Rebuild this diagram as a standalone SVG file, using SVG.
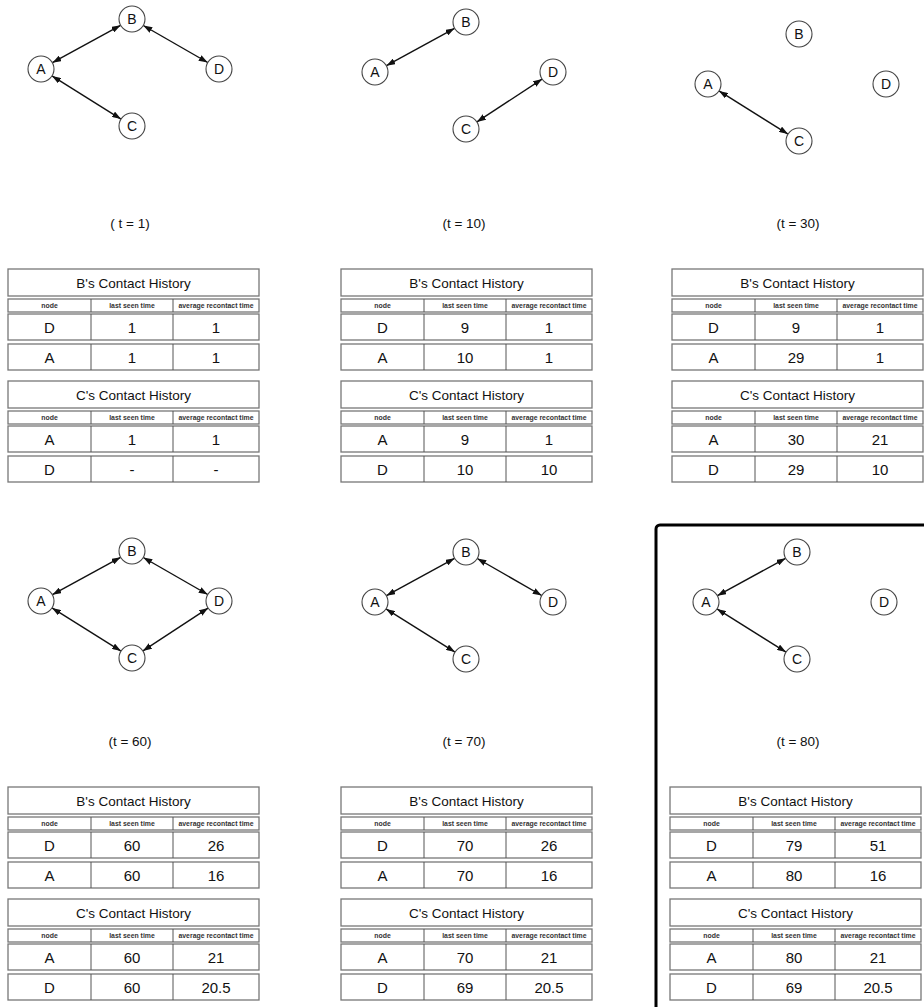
<svg xmlns="http://www.w3.org/2000/svg" width="924" height="1007" viewBox="0 0 924 1007">
<style>
  text { font-family: "Liberation Sans", Arial, Helvetica, sans-serif; fill: #111; text-anchor: middle; }
  .node circle { fill: #fff; stroke: #444; stroke-width: 1.1; }
  .node text { font-size: 14px; }
  .edge { stroke: #111; stroke-width: 1.4; fill: none; marker-start: url(#arr); marker-end: url(#arr); }
  .cap { font-size: 13.5px; }
  .box { fill: #fff; stroke: #777; stroke-width: 1.3; }
  .div { stroke: #555; stroke-width: 1; }
  .ttl { font-size: 13.5px; }
  .hdr { font-size: 6.9px; font-weight: bold; fill: #333; }
  .val { font-size: 15px; }
</style>
<defs>
  <marker id="arr" viewBox="0 0 10 7" markerUnits="userSpaceOnUse" markerWidth="9" markerHeight="6.3" refX="10" refY="3.5" orient="auto-start-reverse">
    <path d="M0,0 L10,3.5 L0,7 z" fill="#111"/>
  </marker>
</defs>
<rect width="924" height="1007" fill="#fff"/>

<!-- connectors -->
<g id="connectors">
  <g transform="translate(41,69)">
    <line class="edge" x1="11.4" y1="-6.3" x2="79.6" y2="-43.7"/>
    <line class="edge" x1="102.3" y1="-43.5" x2="166.7" y2="-6.5"/>
    <line class="edge" x1="11" y1="6.9" x2="80" y2="50.1"/>
  </g>
  <g transform="translate(375,72)">
    <line class="edge" x1="11.4" y1="-6.3" x2="79.6" y2="-43.7"/>
    <line class="edge" x1="101.9" y1="49.9" x2="167.1" y2="7.1"/>
  </g>
  <g transform="translate(708,84)">
    <line class="edge" x1="11" y1="6.9" x2="80" y2="50.1"/>
  </g>
  <g transform="translate(41,601)">
    <line class="edge" x1="11.4" y1="-6.3" x2="79.6" y2="-43.7"/>
    <line class="edge" x1="102.3" y1="-43.5" x2="166.7" y2="-6.5"/>
    <line class="edge" x1="11" y1="6.9" x2="80" y2="50.1"/>
    <line class="edge" x1="101.9" y1="49.9" x2="167.1" y2="7.1"/>
  </g>
  <g transform="translate(375,602)">
    <line class="edge" x1="11.4" y1="-6.3" x2="79.6" y2="-43.7"/>
    <line class="edge" x1="102.3" y1="-43.5" x2="166.7" y2="-6.5"/>
    <line class="edge" x1="11" y1="6.9" x2="80" y2="50.1"/>
  </g>
  <g transform="translate(706,602)">
    <line class="edge" x1="11.4" y1="-6.3" x2="79.6" y2="-43.7"/>
    <line class="edge" x1="11" y1="6.9" x2="80" y2="50.1"/>
  </g>
</g>

<!-- graph 1 -->
<g id="g1-A" class="node" transform="translate(41,69)"><circle r="13"/><text y="5">A</text></g>
<g id="g1-B" class="node" transform="translate(132,19)"><circle r="13"/><text y="5">B</text></g>
<g id="g1-C" class="node" transform="translate(132,126)"><circle r="13"/><text y="5">C</text></g>
<g id="g1-D" class="node" transform="translate(219,69)"><circle r="13"/><text y="5">D</text></g>
<!-- graph 2 -->
<g id="g2-A" class="node" transform="translate(375,72)"><circle r="13"/><text y="5">A</text></g>
<g id="g2-B" class="node" transform="translate(466,22)"><circle r="13"/><text y="5">B</text></g>
<g id="g2-C" class="node" transform="translate(466,129)"><circle r="13"/><text y="5">C</text></g>
<g id="g2-D" class="node" transform="translate(553,72)"><circle r="13"/><text y="5">D</text></g>
<!-- graph 3 -->
<g id="g3-A" class="node" transform="translate(708,84)"><circle r="13"/><text y="5">A</text></g>
<g id="g3-B" class="node" transform="translate(799,34)"><circle r="13"/><text y="5">B</text></g>
<g id="g3-C" class="node" transform="translate(799,141)"><circle r="13"/><text y="5">C</text></g>
<g id="g3-D" class="node" transform="translate(886,84)"><circle r="13"/><text y="5">D</text></g>
<!-- graph 4 -->
<g id="g4-A" class="node" transform="translate(41,601)"><circle r="13"/><text y="5">A</text></g>
<g id="g4-B" class="node" transform="translate(132,551)"><circle r="13"/><text y="5">B</text></g>
<g id="g4-C" class="node" transform="translate(132,658)"><circle r="13"/><text y="5">C</text></g>
<g id="g4-D" class="node" transform="translate(219,601)"><circle r="13"/><text y="5">D</text></g>
<!-- graph 5 -->
<g id="g5-A" class="node" transform="translate(375,602)"><circle r="13"/><text y="5">A</text></g>
<g id="g5-B" class="node" transform="translate(466,552)"><circle r="13"/><text y="5">B</text></g>
<g id="g5-C" class="node" transform="translate(466,659)"><circle r="13"/><text y="5">C</text></g>
<g id="g5-D" class="node" transform="translate(553,602)"><circle r="13"/><text y="5">D</text></g>
<!-- graph 6 -->
<g id="g6-A" class="node" transform="translate(706,602)"><circle r="13"/><text y="5">A</text></g>
<g id="g6-B" class="node" transform="translate(797,552)"><circle r="13"/><text y="5">B</text></g>
<g id="g6-C" class="node" transform="translate(797,659)"><circle r="13"/><text y="5">C</text></g>
<g id="g6-D" class="node" transform="translate(884,602)"><circle r="13"/><text y="5">D</text></g>

<!-- captions -->
<g id="captions">
  <text class="cap" x="130" y="228">( t = 1)</text>
  <text class="cap" x="464" y="228">(t = 10)</text>
  <text class="cap" x="798" y="228">(t = 30)</text>
  <text class="cap" x="130" y="746">(t = 60)</text>
  <text class="cap" x="464" y="746">(t = 70)</text>
  <text class="cap" x="798" y="746">(t = 80)</text>
</g>

<!-- tables: panel 1 -->
<g id="t1-B" transform="translate(8,269)">
  <rect class="box" x="0" y="0" width="251" height="27"/><text class="ttl" x="125.5" y="18.5">B's Contact History</text>
  <rect class="box" x="0" y="30" width="251" height="13"/><line class="div" x1="83" y1="30" x2="83" y2="43"/><line class="div" x1="165" y1="30" x2="165" y2="43"/>
  <text class="hdr" x="41.5" y="39.2">node</text><text class="hdr" x="124" y="39.2">last seen time</text><text class="hdr" x="208" y="39.2">average recontact time</text>
  <rect class="box" x="0" y="45" width="251" height="26"/><line class="div" x1="83" y1="45" x2="83" y2="71"/><line class="div" x1="165" y1="45" x2="165" y2="71"/>
  <text class="val" x="41.5" y="63.5">D</text><text class="val" x="124" y="63.5">1</text><text class="val" x="208" y="63.5">1</text>
  <rect class="box" x="0" y="75" width="251" height="26"/><line class="div" x1="83" y1="75" x2="83" y2="101"/><line class="div" x1="165" y1="75" x2="165" y2="101"/>
  <text class="val" x="41.5" y="93.5">A</text><text class="val" x="124" y="93.5">1</text><text class="val" x="208" y="93.5">1</text>
</g>
<g id="t1-C" transform="translate(8,381)">
  <rect class="box" x="0" y="0" width="251" height="27"/><text class="ttl" x="125.5" y="18.5">C's Contact History</text>
  <rect class="box" x="0" y="30" width="251" height="13"/><line class="div" x1="83" y1="30" x2="83" y2="43"/><line class="div" x1="165" y1="30" x2="165" y2="43"/>
  <text class="hdr" x="41.5" y="39.2">node</text><text class="hdr" x="124" y="39.2">last seen time</text><text class="hdr" x="208" y="39.2">average recontact time</text>
  <rect class="box" x="0" y="45" width="251" height="26"/><line class="div" x1="83" y1="45" x2="83" y2="71"/><line class="div" x1="165" y1="45" x2="165" y2="71"/>
  <text class="val" x="41.5" y="63.5">A</text><text class="val" x="124" y="63.5">1</text><text class="val" x="208" y="63.5">1</text>
  <rect class="box" x="0" y="75" width="251" height="26"/><line class="div" x1="83" y1="75" x2="83" y2="101"/><line class="div" x1="165" y1="75" x2="165" y2="101"/>
  <text class="val" x="41.5" y="93.5">D</text><text class="val" x="124" y="93.5">-</text><text class="val" x="208" y="93.5">-</text>
</g>

<!-- panel 2 -->
<g id="t2-B" transform="translate(341,269)">
  <rect class="box" x="0" y="0" width="251" height="27"/><text class="ttl" x="125.5" y="18.5">B's Contact History</text>
  <rect class="box" x="0" y="30" width="251" height="13"/><line class="div" x1="83" y1="30" x2="83" y2="43"/><line class="div" x1="165" y1="30" x2="165" y2="43"/>
  <text class="hdr" x="41.5" y="39.2">node</text><text class="hdr" x="124" y="39.2">last seen time</text><text class="hdr" x="208" y="39.2">average recontact time</text>
  <rect class="box" x="0" y="45" width="251" height="26"/><line class="div" x1="83" y1="45" x2="83" y2="71"/><line class="div" x1="165" y1="45" x2="165" y2="71"/>
  <text class="val" x="41.5" y="63.5">D</text><text class="val" x="124" y="63.5">9</text><text class="val" x="208" y="63.5">1</text>
  <rect class="box" x="0" y="75" width="251" height="26"/><line class="div" x1="83" y1="75" x2="83" y2="101"/><line class="div" x1="165" y1="75" x2="165" y2="101"/>
  <text class="val" x="41.5" y="93.5">A</text><text class="val" x="124" y="93.5">10</text><text class="val" x="208" y="93.5">1</text>
</g>
<g id="t2-C" transform="translate(341,381)">
  <rect class="box" x="0" y="0" width="251" height="27"/><text class="ttl" x="125.5" y="18.5">C's Contact History</text>
  <rect class="box" x="0" y="30" width="251" height="13"/><line class="div" x1="83" y1="30" x2="83" y2="43"/><line class="div" x1="165" y1="30" x2="165" y2="43"/>
  <text class="hdr" x="41.5" y="39.2">node</text><text class="hdr" x="124" y="39.2">last seen time</text><text class="hdr" x="208" y="39.2">average recontact time</text>
  <rect class="box" x="0" y="45" width="251" height="26"/><line class="div" x1="83" y1="45" x2="83" y2="71"/><line class="div" x1="165" y1="45" x2="165" y2="71"/>
  <text class="val" x="41.5" y="63.5">A</text><text class="val" x="124" y="63.5">9</text><text class="val" x="208" y="63.5">1</text>
  <rect class="box" x="0" y="75" width="251" height="26"/><line class="div" x1="83" y1="75" x2="83" y2="101"/><line class="div" x1="165" y1="75" x2="165" y2="101"/>
  <text class="val" x="41.5" y="93.5">D</text><text class="val" x="124" y="93.5">10</text><text class="val" x="208" y="93.5">10</text>
</g>

<!-- panel 3 -->
<g id="t3-B" transform="translate(672,269)">
  <rect class="box" x="0" y="0" width="251" height="27"/><text class="ttl" x="125.5" y="18.5">B's Contact History</text>
  <rect class="box" x="0" y="30" width="251" height="13"/><line class="div" x1="83" y1="30" x2="83" y2="43"/><line class="div" x1="165" y1="30" x2="165" y2="43"/>
  <text class="hdr" x="41.5" y="39.2">node</text><text class="hdr" x="124" y="39.2">last seen time</text><text class="hdr" x="208" y="39.2">average recontact time</text>
  <rect class="box" x="0" y="45" width="251" height="26"/><line class="div" x1="83" y1="45" x2="83" y2="71"/><line class="div" x1="165" y1="45" x2="165" y2="71"/>
  <text class="val" x="41.5" y="63.5">D</text><text class="val" x="124" y="63.5">9</text><text class="val" x="208" y="63.5">1</text>
  <rect class="box" x="0" y="75" width="251" height="26"/><line class="div" x1="83" y1="75" x2="83" y2="101"/><line class="div" x1="165" y1="75" x2="165" y2="101"/>
  <text class="val" x="41.5" y="93.5">A</text><text class="val" x="124" y="93.5">29</text><text class="val" x="208" y="93.5">1</text>
</g>
<g id="t3-C" transform="translate(672,381)">
  <rect class="box" x="0" y="0" width="251" height="27"/><text class="ttl" x="125.5" y="18.5">C's Contact History</text>
  <rect class="box" x="0" y="30" width="251" height="13"/><line class="div" x1="83" y1="30" x2="83" y2="43"/><line class="div" x1="165" y1="30" x2="165" y2="43"/>
  <text class="hdr" x="41.5" y="39.2">node</text><text class="hdr" x="124" y="39.2">last seen time</text><text class="hdr" x="208" y="39.2">average recontact time</text>
  <rect class="box" x="0" y="45" width="251" height="26"/><line class="div" x1="83" y1="45" x2="83" y2="71"/><line class="div" x1="165" y1="45" x2="165" y2="71"/>
  <text class="val" x="41.5" y="63.5">A</text><text class="val" x="124" y="63.5">30</text><text class="val" x="208" y="63.5">21</text>
  <rect class="box" x="0" y="75" width="251" height="26"/><line class="div" x1="83" y1="75" x2="83" y2="101"/><line class="div" x1="165" y1="75" x2="165" y2="101"/>
  <text class="val" x="41.5" y="93.5">D</text><text class="val" x="124" y="93.5">29</text><text class="val" x="208" y="93.5">10</text>
</g>

<!-- panel 4 -->
<g id="t4-B" transform="translate(8,787)">
  <rect class="box" x="0" y="0" width="251" height="27"/><text class="ttl" x="125.5" y="18.5">B's Contact History</text>
  <rect class="box" x="0" y="30" width="251" height="13"/><line class="div" x1="83" y1="30" x2="83" y2="43"/><line class="div" x1="165" y1="30" x2="165" y2="43"/>
  <text class="hdr" x="41.5" y="39.2">node</text><text class="hdr" x="124" y="39.2">last seen time</text><text class="hdr" x="208" y="39.2">average recontact time</text>
  <rect class="box" x="0" y="45" width="251" height="26"/><line class="div" x1="83" y1="45" x2="83" y2="71"/><line class="div" x1="165" y1="45" x2="165" y2="71"/>
  <text class="val" x="41.5" y="63.5">D</text><text class="val" x="124" y="63.5">60</text><text class="val" x="208" y="63.5">26</text>
  <rect class="box" x="0" y="75" width="251" height="26"/><line class="div" x1="83" y1="75" x2="83" y2="101"/><line class="div" x1="165" y1="75" x2="165" y2="101"/>
  <text class="val" x="41.5" y="93.5">A</text><text class="val" x="124" y="93.5">60</text><text class="val" x="208" y="93.5">16</text>
</g>
<g id="t4-C" transform="translate(8,899)">
  <rect class="box" x="0" y="0" width="251" height="27"/><text class="ttl" x="125.5" y="18.5">C's Contact History</text>
  <rect class="box" x="0" y="30" width="251" height="13"/><line class="div" x1="83" y1="30" x2="83" y2="43"/><line class="div" x1="165" y1="30" x2="165" y2="43"/>
  <text class="hdr" x="41.5" y="39.2">node</text><text class="hdr" x="124" y="39.2">last seen time</text><text class="hdr" x="208" y="39.2">average recontact time</text>
  <rect class="box" x="0" y="45" width="251" height="26"/><line class="div" x1="83" y1="45" x2="83" y2="71"/><line class="div" x1="165" y1="45" x2="165" y2="71"/>
  <text class="val" x="41.5" y="63.5">A</text><text class="val" x="124" y="63.5">60</text><text class="val" x="208" y="63.5">21</text>
  <rect class="box" x="0" y="75" width="251" height="26"/><line class="div" x1="83" y1="75" x2="83" y2="101"/><line class="div" x1="165" y1="75" x2="165" y2="101"/>
  <text class="val" x="41.5" y="93.5">D</text><text class="val" x="124" y="93.5">60</text><text class="val" x="208" y="93.5">20.5</text>
</g>

<!-- panel 5 -->
<g id="t5-B" transform="translate(341,787)">
  <rect class="box" x="0" y="0" width="251" height="27"/><text class="ttl" x="125.5" y="18.5">B's Contact History</text>
  <rect class="box" x="0" y="30" width="251" height="13"/><line class="div" x1="83" y1="30" x2="83" y2="43"/><line class="div" x1="165" y1="30" x2="165" y2="43"/>
  <text class="hdr" x="41.5" y="39.2">node</text><text class="hdr" x="124" y="39.2">last seen time</text><text class="hdr" x="208" y="39.2">average recontact time</text>
  <rect class="box" x="0" y="45" width="251" height="26"/><line class="div" x1="83" y1="45" x2="83" y2="71"/><line class="div" x1="165" y1="45" x2="165" y2="71"/>
  <text class="val" x="41.5" y="63.5">D</text><text class="val" x="124" y="63.5">70</text><text class="val" x="208" y="63.5">26</text>
  <rect class="box" x="0" y="75" width="251" height="26"/><line class="div" x1="83" y1="75" x2="83" y2="101"/><line class="div" x1="165" y1="75" x2="165" y2="101"/>
  <text class="val" x="41.5" y="93.5">A</text><text class="val" x="124" y="93.5">70</text><text class="val" x="208" y="93.5">16</text>
</g>
<g id="t5-C" transform="translate(341,899)">
  <rect class="box" x="0" y="0" width="251" height="27"/><text class="ttl" x="125.5" y="18.5">C's Contact History</text>
  <rect class="box" x="0" y="30" width="251" height="13"/><line class="div" x1="83" y1="30" x2="83" y2="43"/><line class="div" x1="165" y1="30" x2="165" y2="43"/>
  <text class="hdr" x="41.5" y="39.2">node</text><text class="hdr" x="124" y="39.2">last seen time</text><text class="hdr" x="208" y="39.2">average recontact time</text>
  <rect class="box" x="0" y="45" width="251" height="26"/><line class="div" x1="83" y1="45" x2="83" y2="71"/><line class="div" x1="165" y1="45" x2="165" y2="71"/>
  <text class="val" x="41.5" y="63.5">A</text><text class="val" x="124" y="63.5">70</text><text class="val" x="208" y="63.5">21</text>
  <rect class="box" x="0" y="75" width="251" height="26"/><line class="div" x1="83" y1="75" x2="83" y2="101"/><line class="div" x1="165" y1="75" x2="165" y2="101"/>
  <text class="val" x="41.5" y="93.5">D</text><text class="val" x="124" y="93.5">69</text><text class="val" x="208" y="93.5">20.5</text>
</g>

<!-- panel 6 -->
<g id="t6-B" transform="translate(670,787)">
  <rect class="box" x="0" y="0" width="251" height="27"/><text class="ttl" x="125.5" y="18.5">B's Contact History</text>
  <rect class="box" x="0" y="30" width="251" height="13"/><line class="div" x1="83" y1="30" x2="83" y2="43"/><line class="div" x1="165" y1="30" x2="165" y2="43"/>
  <text class="hdr" x="41.5" y="39.2">node</text><text class="hdr" x="124" y="39.2">last seen time</text><text class="hdr" x="208" y="39.2">average recontact time</text>
  <rect class="box" x="0" y="45" width="251" height="26"/><line class="div" x1="83" y1="45" x2="83" y2="71"/><line class="div" x1="165" y1="45" x2="165" y2="71"/>
  <text class="val" x="41.5" y="63.5">D</text><text class="val" x="124" y="63.5">79</text><text class="val" x="208" y="63.5">51</text>
  <rect class="box" x="0" y="75" width="251" height="26"/><line class="div" x1="83" y1="75" x2="83" y2="101"/><line class="div" x1="165" y1="75" x2="165" y2="101"/>
  <text class="val" x="41.5" y="93.5">A</text><text class="val" x="124" y="93.5">80</text><text class="val" x="208" y="93.5">16</text>
</g>
<g id="t6-C" transform="translate(670,899)">
  <rect class="box" x="0" y="0" width="251" height="27"/><text class="ttl" x="125.5" y="18.5">C's Contact History</text>
  <rect class="box" x="0" y="30" width="251" height="13"/><line class="div" x1="83" y1="30" x2="83" y2="43"/><line class="div" x1="165" y1="30" x2="165" y2="43"/>
  <text class="hdr" x="41.5" y="39.2">node</text><text class="hdr" x="124" y="39.2">last seen time</text><text class="hdr" x="208" y="39.2">average recontact time</text>
  <rect class="box" x="0" y="45" width="251" height="26"/><line class="div" x1="83" y1="45" x2="83" y2="71"/><line class="div" x1="165" y1="45" x2="165" y2="71"/>
  <text class="val" x="41.5" y="63.5">A</text><text class="val" x="124" y="63.5">80</text><text class="val" x="208" y="63.5">21</text>
  <rect class="box" x="0" y="75" width="251" height="26"/><line class="div" x1="83" y1="75" x2="83" y2="101"/><line class="div" x1="165" y1="75" x2="165" y2="101"/>
  <text class="val" x="41.5" y="93.5">D</text><text class="val" x="124" y="93.5">69</text><text class="val" x="208" y="93.5">20.5</text>
</g>

<!-- highlight frame -->
<rect id="highlight" x="656" y="525" width="300" height="520" rx="4" fill="none" stroke="#000" stroke-width="3"/>
</svg>
